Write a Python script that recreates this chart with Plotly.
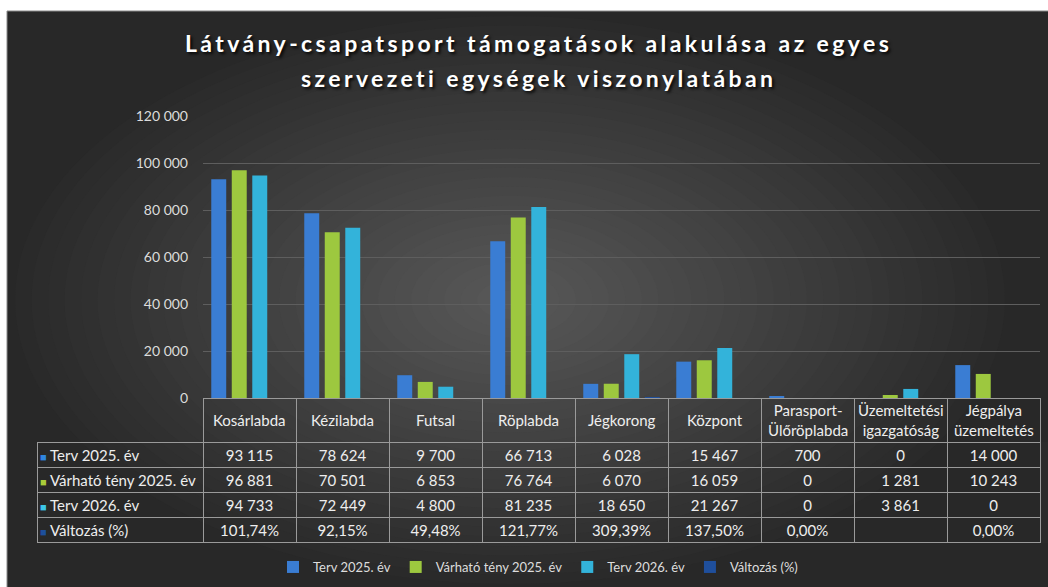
import plotly.graph_objects as go

categories = ["Kosárlabda", "Kézilabda", "Futsal", "Röplabda", "Jégkorong", "Központ",
              "Parasport-<br>Ülőröplabda", "Üzemeltetési<br>igazgatóság", "Jégpálya<br>üzemeltetés"]
series_names = ["Terv 2025. év", "Várható tény 2025. év", "Terv 2026. év", "Változás (%)"]
terv_2025 = [93115, 78624, 9700, 66713, 6028, 15467, 700, 0, 14000]
varhato_2025 = [96881, 70501, 6853, 76764, 6070, 16059, 0, 1281, 10243]
terv_2026 = [94733, 72449, 4800, 81235, 18650, 21267, 0, 3861, 0]
valtozas_pct = [101.74, 92.15, 49.48, 121.77, 309.39, 137.50, 0.00, None, 0.00]
y_ticks = [0, 20000, 40000, 60000, 80000, 100000, 120000]
title_lines = ["Látvány-csapatsport támogatások alakulása az egyes",
               "szervezeti egységek viszonylatában"]

bar_colors = ["#3a7dd3", "#9dc83f", "#33b3da", "#1f4f9c"]
legend_colors = ["#2f86e0", "#a9cc3a", "#3cc6e8", "#1d4f9c"]

W, H = 1048, 587
ML, MR, MT, MB = 37, 8, 116, 44
PW, PH = W - ML - MR, H - MT - MB
HEADER_TOP, HEADER_H, ROW_H = 398, 44, 25
TXT = "#eeeeee"


def xp(px):
    return (px - ML) / PW


def yp(py):
    return (H - MB - py) / PH


def fmt_int(v):
    return f"{v:,}".replace(",", " ")


def fmt_pct(v):
    return "" if v is None else f"{v:.2f}".replace(".", ",") + "%"


fig = go.Figure()

value_series = [terv_2025, varhato_2025, terv_2026, [None if v is None else v / 100 for v in valtozas_pct]]
for name, vals, col in zip(series_names, value_series, bar_colors):
    fig.add_trace(go.Bar(x=categories, y=vals, name=name, marker=dict(color=col, line=dict(width=0)),
                         hoverinfo="skip"))

# data table below the bars
table_cols = [[""] * len(series_names)]
for i in range(len(categories)):
    table_cols.append([fmt_int(terv_2025[i]), fmt_int(varhato_2025[i]), fmt_int(terv_2026[i]),
                       fmt_pct(valtozas_pct[i])])

line_col = "#9a9a9a"
fig.add_trace(go.Table(
    domain=dict(x=[0, 1], y=[0, yp(HEADER_TOP)]),
    columnwidth=[166] + [93] * len(categories),
    header=dict(values=[""] * (len(categories) + 1), height=HEADER_H,
                fill=dict(color="rgba(0,0,0,0)"),
                line=dict(color=["rgba(0,0,0,0)"] + [line_col] * len(categories), width=1),
                font=dict(family="Lato", size=15, color=TXT)),
    cells=dict(values=table_cols, height=ROW_H,
               align=["left"] + ["center"] * len(categories),
               fill=dict(color="rgba(0,0,0,0)"),
               line=dict(color=line_col, width=1),
               font=dict(family="Lato", size=15, color=TXT)),
))

# header texts (category names) centred in header row
for c in categories:
    fig.add_annotation(x=c, xref="x", y=yp(HEADER_TOP + HEADER_H / 2), yref="paper", text=c,
                       showarrow=False, xanchor="center", yanchor="middle", align="center",
                       font=dict(family="Lato", size=15, color=TXT))

# row labels with series colour keys
for r, (n, c) in enumerate(zip(series_names, legend_colors)):
    fig.add_annotation(x=xp(38), xref="paper",
                       y=yp(HEADER_TOP + HEADER_H + ROW_H * (r + 0.5)), yref="paper",
                       text=f'<span style="color:{c};font-size:11px">■</span> {n}',
                       showarrow=False, xanchor="left", yanchor="middle",
                       font=dict(family="Lato", size=15, color=TXT))

# title (two lines)
for line, py in zip(title_lines, [43, 78]):
    fig.add_annotation(x=xp(538), xref="paper", y=yp(py), yref="paper", showarrow=False,
                       text=f'<span style="letter-spacing:3.4px">{line}</span>',
                       xanchor="center", yanchor="middle",
                       font=dict(family="Lato", size=23, color="white", weight="bold",
                                 shadow="2px 2px 3px rgba(0,0,0,0.85)"))

# background: dark panel with soft radial highlight
shapes = [dict(type="rect", xref="paper", yref="paper", x0=xp(7), x1=xp(W + 2), y0=yp(11), y1=yp(H + 2),
               fillcolor="#282828", line=dict(color="#8a8a8a", width=1), layer="below")]
cx, cy = 510, 300
steps = 30
for k in range(steps):
    f = 1 - k / steps
    rx, ry = 495 * f, 284 * f
    g = int(41 + (88 - 41) * (k + 1) / steps)
    shapes.append(dict(type="circle", xref="paper", yref="paper",
                       x0=xp(cx - rx), x1=xp(cx + rx), y0=yp(cy - ry), y1=yp(cy + ry),
                       fillcolor=f"rgb({g},{g},{g})", line=dict(width=0), layer="below"))
fig.update_layout(shapes=shapes)

fig.update_layout(
    width=W, height=H,
    margin=dict(l=ML, r=MR, t=MT, b=MB, autoexpand=False),
    paper_bgcolor="white", plot_bgcolor="rgba(0,0,0,0)",
    font=dict(family="Lato", color="#dddddd"),
    barmode="group", bargap=0.118, bargroupgap=0.27,
    xaxis=dict(domain=[xp(203), 1], showticklabels=False, showgrid=False, zeroline=False,
               showline=False, ticks=""),
    yaxis=dict(domain=[yp(HEADER_TOP), 1], range=[0, 120000], tickvals=y_ticks,
               ticktext=[fmt_int(v) for v in y_ticks], showgrid=True, gridcolor="#5e5e5e",
               gridwidth=1, zeroline=False, showline=False, ticks="", ticklabelstandoff=14,
               automargin=False, tickfont=dict(family="Lato", size=14, color="#dcdcdc")),
    showlegend=True,
    legend=dict(orientation="h", xref="container", x=538 / W, xanchor="center",
                yref="container", y=(H - 567) / H, yanchor="middle",
                bgcolor="rgba(0,0,0,0)", font=dict(family="Lato", size=13, color="#dddddd"),
                traceorder="normal", itemwidth=30),
)

fig.write_html("out.html", post_script="document.body.style.margin='0';",
               config={"displayModeBar": False})
